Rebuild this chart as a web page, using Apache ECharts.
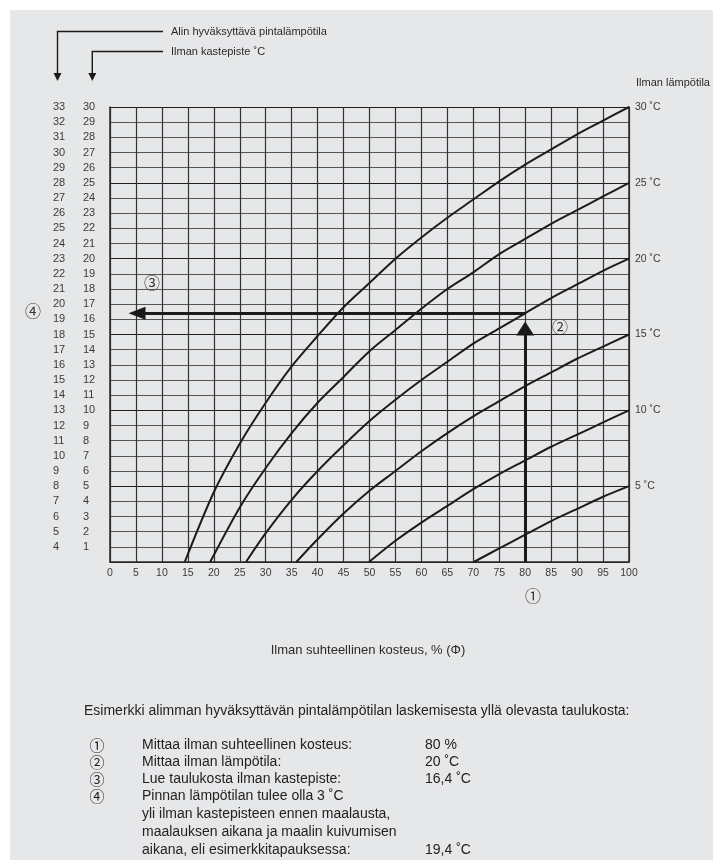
<!DOCTYPE html>
<html>
<head>
<meta charset="utf-8">
<script src="https://cdn.jsdelivr.net/npm/echarts@6/dist/echarts.min.js"></script>
<style>
  html, body { margin: 0; padding: 0; background: #ffffff; }
  #chart { width: 713px; height: 860px; }
</style>
</head>
<body>
<div id="chart"></div>
<script>
// Relative humidity (%) against dew point (°C), one curve per air temperature
const airTemps = [30, 25, 20, 15, 10, 5];
const curve30 = [[14.4,0],[20,4.6],[25,7.8],[30,10.5],[35,12.9],[40,14.9],[45,16.8],[50,18.4],[55,20.0],[60,21.4],[65,22.7],[70,23.9],[75,25.1],[80,26.2],[85,27.2],[90,28.2],[95,29.1],[100,30]];
const curve25 = [[19.3,0],[25,3.6],[30,6.2],[35,8.5],[40,10.5],[45,12.2],[50,13.9],[55,15.3],[60,16.7],[65,18.0],[70,19.1],[75,20.3],[80,21.3],[85,22.3],[90,23.2],[95,24.1],[100,25]];
const curve20 = [[26.2,0],[30,1.9],[35,4.1],[40,6.0],[45,7.7],[50,9.3],[55,10.7],[60,12.0],[65,13.2],[70,14.4],[75,15.4],[80,16.4],[85,17.4],[90,18.3],[95,19.2],[100,20]];
const curve15 = [[35.9,0],[40,1.5],[45,3.2],[50,4.7],[55,6.0],[60,7.3],[65,8.5],[70,9.6],[75,10.6],[80,11.6],[85,12.5],[90,13.4],[95,14.2],[100,15]];
const curve10 = [[49.9,0],[55,1.4],[60,2.6],[65,3.7],[70,4.8],[75,5.8],[80,6.7],[85,7.6],[90,8.4],[95,9.2],[100,10]];
const curve5  = [[70.1,0],[75,0.9],[80,1.8],[85,2.7],[90,3.5],[95,4.3],[100,5]];
const curves = [curve30, curve25, curve20, curve15, curve10, curve5];

// Worked example: 80 % RH, 20 °C air -> dew point 16.4 °C, surface 19.4 °C
const exampleRH = 80;
const exampleDew = 16.4;
const surfaceMargin = 3;
const arrowLeftRH = 5.2;     // centre of left arrow head
const arrowUpDew = 15.4;     // centre of upward arrow head

// Axis ranges and tick labels
const rhMin = 0, rhMax = 100, rhStep = 5;
const dewMin = 0, dewMax = 30, dewStep = 1;
const airStep = 5;

const textColor = '#3a3a3a';
const font = 'Liberation Sans, Arial, sans-serif';
const circFont = 'Noto Sans CJK JP';

const chart = echarts.init(document.getElementById('chart'), null, { renderer: 'canvas' });

const curveSeries = curves.map((c, i) => ({
  name: airTemps[i] + ' °C',
  type: 'line',
  data: c,
  smooth: 0.3,
  symbol: 'none',
  lineStyle: { color: '#1c1c1c', width: 2 },
  z: 5
}));

function arrowSeries(from, to, size) {
  return {
    type: 'line',
    data: [],
    markLine: {
      silent: true,
      symbol: ['none', 'triangle'],
      symbolSize: size,
      label: { show: false },
      lineStyle: { color: '#1a1a1a', width: 3, type: 'solid' },
      itemStyle: { color: '#1a1a1a' },
      emphasis: { disabled: true },
      data: [[{ coord: from }, { coord: to }]]
    },
    z: 6
  };
}

const bottomLines = [
  { n: '①', t: 'Mittaa ilman suhteellinen kosteus:', v: exampleRH + ' %', y: 745 },
  { n: '②', t: 'Mittaa ilman lämpötila:', v: '20 ˚C', y: 762 },
  { n: '③', t: 'Lue taulukosta ilman kastepiste:', v: String(exampleDew).replace('.', ',') + ' ˚C', y: 779 },
  { n: '④', t: 'Pinnan lämpötilan tulee olla ' + surfaceMargin + ' ˚C', v: '', y: 796 },
  { n: '', t: 'yli ilman kastepisteen ennen maalausta,', v: '', y: 814 },
  { n: '', t: 'maalauksen aikana ja maalin kuivumisen', v: '', y: 832 },
  { n: '', t: 'aikana, eli esimerkkitapauksessa:', v: String(exampleDew + surfaceMargin).replace('.', ',') + ' ˚C', y: 850 }
];

const graphics = [
  // page background
  { type: 'rect', shape: { x: 10, y: 10, width: 703, height: 850 }, style: { fill: '#e6e7e9' }, z: -10, silent: true },
  // column pointers
  { type: 'polyline', shape: { points: [[163, 31.5], [57.5, 31.5], [57.5, 75]] }, style: { stroke: '#1a1a1a', lineWidth: 1.4, fill: null } },
  { type: 'polygon', shape: { points: [[53.5, 73], [61.5, 73], [57.5, 81]] }, style: { fill: '#1a1a1a' } },
  { type: 'polyline', shape: { points: [[163, 51.5], [92.3, 51.5], [92.3, 75]] }, style: { stroke: '#1a1a1a', lineWidth: 1.4, fill: null } },
  { type: 'polygon', shape: { points: [[88.3, 73], [96.3, 73], [92.3, 81]] }, style: { fill: '#1a1a1a' } },
  { type: 'text', left: 171, y: 31.5, style: { text: 'Alin hyväksyttävä pintalämpötila', font: '11px ' + font, fill: '#2a2a2a', verticalAlign: 'middle' } },
  { type: 'text', left: 171, y: 51.5, style: { text: 'Ilman kastepiste ˚C', font: '11px ' + font, fill: '#2a2a2a', verticalAlign: 'middle' } },
  { type: 'text', left: 636, y: 83, style: { text: 'Ilman lämpötila', font: '11px ' + font, fill: '#2a2a2a', verticalAlign: 'middle' } },
  // circled markers
  { type: 'text', x: 533, y: 596, style: { text: '①', font: '16px ' + circFont, fill: '#333', align: 'center', verticalAlign: 'middle' } },
  { type: 'text', x: 560, y: 327, style: { text: '②', font: '16px ' + circFont, fill: '#333', align: 'center', verticalAlign: 'middle' } },
  { type: 'text', x: 152, y: 283, style: { text: '③', font: '16px ' + circFont, fill: '#333', align: 'center', verticalAlign: 'middle' } },
  { type: 'text', x: 33, y: 311, style: { text: '④', font: '16px ' + circFont, fill: '#333', align: 'center', verticalAlign: 'middle' } },
  // x axis title
  { type: 'text', x: 368, y: 650, style: { text: 'Ilman suhteellinen kosteus, % (Φ)', font: '13px ' + font, fill: '#2a2a2a', align: 'center', verticalAlign: 'middle' } },
  // worked example text
  { type: 'text', left: 84, y: 711, style: { text: 'Esimerkki alimman hyväksyttävän pintalämpötilan laskemisesta yllä olevasta taulukosta:', font: '14px ' + font, fill: '#222', verticalAlign: 'middle' } }
];

bottomLines.forEach(r => {
  if (r.n) graphics.push({ type: 'text', x: 97, y: r.y, style: { text: r.n, font: '15px ' + circFont, fill: '#222', align: 'center', verticalAlign: 'middle' } });
  graphics.push({ type: 'text', x: 142, y: r.y, style: { text: r.t, font: '14px ' + font, fill: '#222', verticalAlign: 'middle' } });
  if (r.v) graphics.push({ type: 'text', x: 425, y: r.y, style: { text: r.v, font: '14px ' + font, fill: '#222', verticalAlign: 'middle' } });
});

const option = {
  animation: false,
  backgroundColor: 'transparent',
  grid: { left: 110, right: 84, top: 107, bottom: 298, containLabel: false },
  xAxis: {
    type: 'value', min: rhMin, max: rhMax, interval: rhStep,
    axisLine: { show: true, lineStyle: { color: '#2a2a2a', width: 1.5 } },
    axisTick: { show: false },
    axisLabel: { margin: 6, fontSize: 10.5, color: textColor, fontFamily: font },
    splitLine: { show: true, lineStyle: { color: '#333', width: 1.2 } }
  },
  yAxis: [
    {
      type: 'value', min: dewMin, max: dewMax, interval: dewStep, position: 'left',
      axisLine: { show: true, lineStyle: { color: '#2a2a2a', width: 1.5 } },
      axisTick: { show: false },
      axisLabel: { margin: 27, align: 'left', fontSize: 11, color: textColor, fontFamily: font,
        formatter: v => v === dewMin ? '' : String(v) },
      splitLine: { show: true, lineStyle: { color: ['#1e1e1e', '#555', '#555', '#555', '#555'], width: 1.2 } }
    },
    {
      type: 'value', min: dewMin, max: dewMax, interval: dewStep, position: 'left',
      axisLine: { show: false }, axisTick: { show: false }, splitLine: { show: false },
      axisLabel: { margin: 57, align: 'left', fontSize: 11, color: textColor, fontFamily: font,
        formatter: v => v === dewMin ? '' : String(v + surfaceMargin) }
    },
    {
      type: 'value', min: dewMin, max: dewMax, interval: airStep, position: 'right',
      axisLine: { show: true, lineStyle: { color: '#2a2a2a', width: 1.5 } },
      axisTick: { show: false }, splitLine: { show: false },
      axisLabel: { margin: 6, align: 'left', fontSize: 10.5, color: textColor, fontFamily: font,
        formatter: v => v === dewMin ? '' : v + ' ˚C' }
    }
  ],
  series: [
    ...curveSeries,
    arrowSeries([exampleRH, exampleDew], [arrowLeftRH, exampleDew], [13, 17]),
    arrowSeries([exampleRH, dewMin], [exampleRH, arrowUpDew], [18, 14])
  ],
  graphic: graphics
};

chart.setOption(option);
</script>
</body>
</html>
